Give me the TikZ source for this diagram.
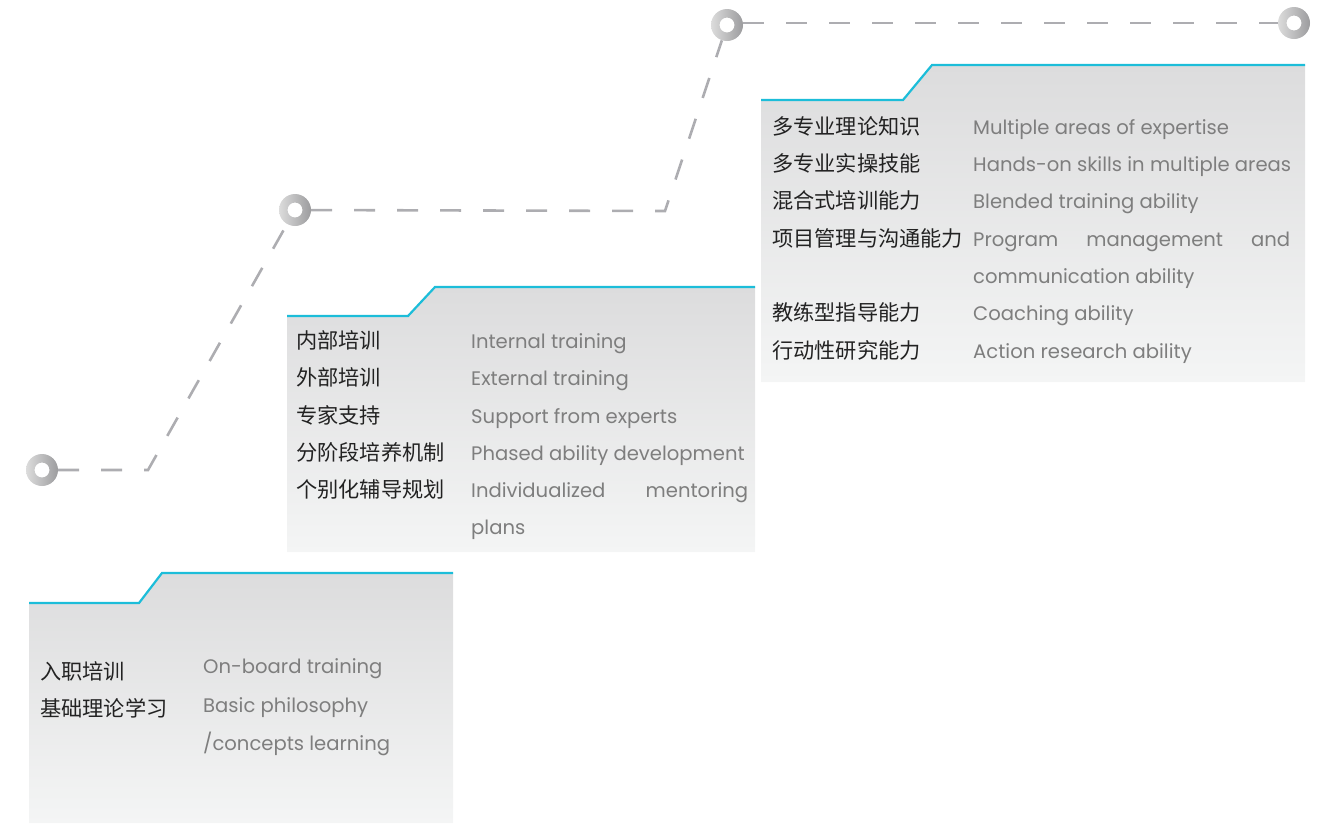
\documentclass[tikz,border=0pt]{standalone}
\usepackage{fontspec}
\setmainfont{Poppins}
\newfontfamily\cjk{Noto Sans CJK SC}
\definecolor{cyanline}{HTML}{1CBDD9}
\definecolor{boxtop}{HTML}{DCDCDD}
\definecolor{boxbot}{HTML}{F4F5F5}
\definecolor{dashgray}{HTML}{ADADB1}
\definecolor{entext}{HTML}{7E7E7E}
\definecolor{cntext}{HTML}{222222}
\definecolor{ringlight}{HTML}{DCDCDC}
\definecolor{ringdark}{HTML}{9C9C9E}
\tikzset{
  boxfill/.style={top color=boxtop, bottom color=boxbot},
  tabline/.style={draw=cyanline, line width=2.2pt},
  ring/.style={circle, minimum size=32pt, inner sep=0pt},
  dashpath/.style={draw=dashgray, line width=2.6pt, dash pattern=on 21pt off 22pt},
  cn/.style={anchor=base west, inner sep=0pt, text=cntext, font=\cjk\fontsize{21.2}{22}\selectfont},
  en/.style={anchor=base west, inner sep=0pt, text=entext, font=\fontsize{19.6}{20}\selectfont},
}
\newcommand{\ringshade}[1]{\shade[even odd rule, left color=ringlight, right color=ringdark] (#1) circle (16pt) (#1) circle (7.5pt);}
\begin{document}
\begin{tikzpicture}[x=1pt, y=-1pt]
\useasboundingbox (0,0) rectangle (1328,823);
% boxes
\shade[boxfill] (29,603) -- (139,603) -- (162,573) -- (453,573) -- (453,823) -- (29,823) -- cycle;
\draw[tabline] (29,603) -- (139,603) -- (162,573) -- (453,573);
\shade[boxfill] (287,316) -- (408,316) -- (435,287) -- (755,287) -- (755,552) -- (287,552) -- cycle;
\draw[tabline] (287,316) -- (408,316) -- (435,287) -- (755,287);
\shade[boxfill] (761,100) -- (903,100) -- (932,65) -- (1305,65) -- (1305,382) -- (761,382) -- cycle;
\draw[tabline] (761,100) -- (903,100) -- (932,65) -- (1305,65);
% rings
\node[ring] (r1) at (42,470) {};
\node[ring] (r2) at (295,210) {};
\node[ring] (r3) at (727,25) {};
\node[ring] (r4) at (1294,23) {};
\coordinate (c1) at (148,470);
\coordinate (c2) at (665,211);
\draw[dashpath] (r1) -- (c1) -- (r2);
\draw[dashpath] (r2) -- (c2) -- (r3);
\draw[dashpath] (r3.east |- 0,23) -- (r4);
\ringshade{r1}
\ringshade{r2}
\ringshade{r3}
\ringshade{r4}
% box 1 text
\node[cn] (a1) at (40,679) {入职培训};
\node[cn] (a2) at (40,716) {基础理论学习};
\node[en] (e1) at (203,673) {On-board training};
\node[en] (e2) at (203,712) {Basic philosophy};
\node[en] (e3) at (203,750) {/concepts learning};
% box 2 text
\node[cn] (b1) at (296,348) {内部培训};
\node[cn] (b2) at (296,385) {外部培训};
\node[cn] (b3) at (296,423) {专家支持};
\node[cn] (b4) at (296,460) {分阶段培养机制};
\node[cn] (b5) at (296,497) {个别化辅导规划};
\node[en] (f1) at (471,348) {Internal training};
\node[en] (f2) at (471,385) {External training};
\node[en] (f3) at (471,423) {Support from experts};
\node[en] (f4) at (471,460) {Phased ability development};
\node[en] (f5) at (471,497) {\hbox to 277pt{Individualized\hfill mentoring}};
\node[en] (f6) at (471,534) {plans};
% box 3 text
\node[cn] (d1) at (772,134) {多专业理论知识};
\node[cn] (d2) at (772,171) {多专业实操技能};
\node[cn] (d3) at (772,208) {混合式培训能力};
\node[cn] (d4) at (772,246) {项目管理与沟通能力};
\node[cn] (d5) at (772,320) {教练型指导能力};
\node[cn] (d6) at (772,358) {行动性研究能力};
\node[en] (g1) at (973,134) {Multiple areas of expertise};
\node[en] (g2) at (973,171) {Hands-on skills in multiple areas};
\node[en] (g3) at (973,208) {Blended training ability};
\node[en] (g4) at (973,246) {\hbox to 317pt{Program\hfill management\hfill and}};
\node[en] (g5) at (973,283) {communication ability};
\node[en] (g6) at (973,320) {Coaching ability};
\node[en] (g7) at (973,358) {Action research ability};
\end{tikzpicture}
\end{document}
